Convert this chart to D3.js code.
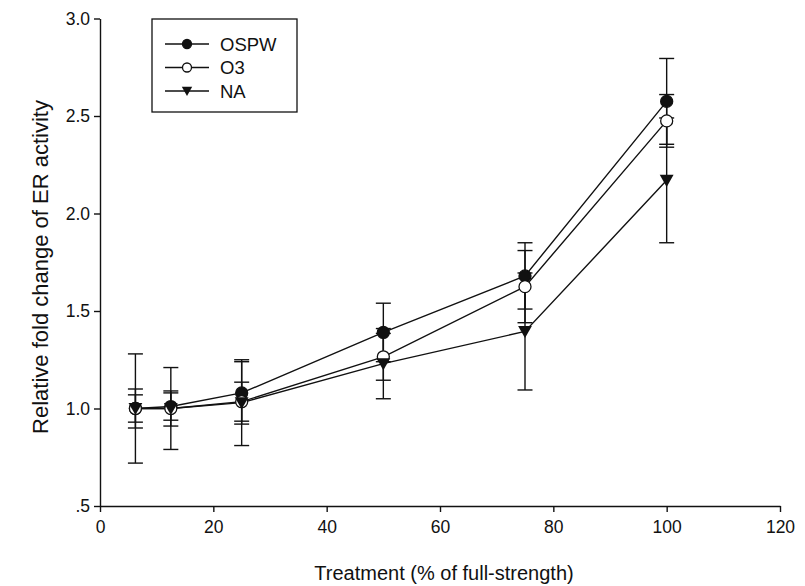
<!DOCTYPE html>
<html>
<head>
<meta charset="utf-8">
<script src="https://cdn.jsdelivr.net/npm/d3@7"></script>
<style>
  body { margin: 0; background: #fff; }
  text { font-family: "Liberation Sans", Arial, sans-serif; fill: #111; }
</style>
</head>
<body>
<div id="container"></div>
<script>
const w = 805;
const h = 586;

// data
let treatments = [6.25, 12.5, 25, 50, 75, 100];
let ospw = [1.00, 1.01, 1.08, 1.39, 1.68, 2.575];
let ospwErr = [0.10, 0.07, 0.16, 0.15, 0.17, 0.22];
let o3 = [1.00, 1.00, 1.035, 1.265, 1.625, 2.475];
let o3Err = [0.07, 0.09, 0.10, 0.12, 0.185, 0.135];
let na = [1.00, 1.00, 1.03, 1.23, 1.395, 2.17];
let naErr = [0.28, 0.21, 0.22, 0.18, 0.30, 0.32];
let seriesNames = ["OSPW", "O3", "NA"];
let xTicks = [0, 20, 40, 60, 80, 100, 120];
let yTicks = [0.5, 1.0, 1.5, 2.0, 2.5, 3.0];

let series = [
  { name: seriesNames[0], mean: ospw, err: ospwErr, marker: "filled" },
  { name: seriesNames[1], mean: o3, err: o3Err, marker: "open" },
  { name: seriesNames[2], mean: na, err: naErr, marker: "triangle" }
];

let xScale = d3.scaleLinear().domain([0, 120]).range([100, 780]);
let yScale = d3.scaleLinear().domain([0.5, 3.0]).range([506, 18.5]);

let viz = d3.select("#container").append("svg").attr("width", w).attr("height", h);

// axes
let xAxis = d3.axisBottom(xScale).tickValues(xTicks).tickSize(6).tickSizeOuter(0);
let xAxisGroup = viz.append("g").attr("class", "xaxis")
  .attr("transform", "translate(0," + yScale(0.5) + ")")
  .call(xAxis);
xAxisGroup.selectAll("text").attr("font-size", 17.5).attr("dy", "1.05em");

let yAxis = d3.axisLeft(yScale).tickValues(yTicks).tickSize(6).tickSizeOuter(0)
  .tickFormat(function(d){ return d < 1 ? ".5" : d.toFixed(1) });
let yAxisGroup = viz.append("g").attr("class", "yaxis")
  .attr("transform", "translate(" + xScale(0) + ",0)")
  .call(yAxis);
yAxisGroup.selectAll("text").attr("font-size", 17.5).attr("x", -10);

viz.selectAll(".domain, .tick line").attr("stroke", "#111").attr("stroke-width", 1.4);

// axis titles
viz.append("text")
  .attr("x", 444).attr("y", 580)
  .attr("text-anchor", "middle").attr("font-size", 20)
  .text("Treatment (% of full-strength)");
viz.append("text")
  .attr("transform", "translate(48,267) rotate(-90)")
  .attr("text-anchor", "middle").attr("font-size", 22)
  .text("Relative fold change of ER activity");

function drawMarker(g, type, size){
  if (type == "triangle") {
    let s = size * 1.15;
    g.append("path")
      .attr("d", "M" + (-s) + "," + (-s * 0.8) + "L" + s + "," + (-s * 0.8) + "L0," + (s * 0.95) + "Z")
      .attr("fill", "#111");
  } else {
    g.append("circle")
      .attr("r", size)
      .attr("fill", type == "filled" ? "#111" : "#fff")
      .attr("stroke", "#111")
      .attr("stroke-width", 1.3);
  }
}

let line = d3.line()
  .x(function(d){ return xScale(d.x) })
  .y(function(d){ return yScale(d.y) });

function points(s){
  return treatments.map(function(t, i){ return { x: t, y: s.mean[i], e: s.err[i] } });
}

// lines
series.forEach(function(s){
  viz.append("path")
    .datum(points(s))
    .attr("d", line)
    .attr("fill", "none")
    .attr("stroke", "#111")
    .attr("stroke-width", 1.4);
});

// error bars
series.forEach(function(s){
  let bars = viz.append("g").selectAll("g").data(points(s)).enter().append("g");
  bars.append("line")
    .attr("x1", function(d){ return xScale(d.x) })
    .attr("x2", function(d){ return xScale(d.x) })
    .attr("y1", function(d){ return yScale(d.y + d.e) })
    .attr("y2", function(d){ return yScale(d.y - d.e) })
    .attr("stroke", "#111").attr("stroke-width", 1.4);
  [1, -1].forEach(function(sign){
    bars.append("line")
      .attr("x1", function(d){ return xScale(d.x) - 7.5 })
      .attr("x2", function(d){ return xScale(d.x) + 7.5 })
      .attr("y1", function(d){ return yScale(d.y + sign * d.e) })
      .attr("y2", function(d){ return yScale(d.y + sign * d.e) })
      .attr("stroke", "#111").attr("stroke-width", 1.4);
  });
});

// markers
series.forEach(function(s){
  points(s).forEach(function(d){
    let g = viz.append("g").attr("transform", "translate(" + xScale(d.x) + "," + yScale(d.y) + ")");
    drawMarker(g, s.marker, 6);
  });
});

// legend
let legend = viz.append("g").attr("class", "legend");
legend.append("rect")
  .attr("x", 152).attr("y", 19).attr("width", 145).attr("height", 93)
  .attr("fill", "#fff").attr("stroke", "#111").attr("stroke-width", 1.3);
series.forEach(function(s, i){
  let yy = 44 + i * 23.5;
  legend.append("line")
    .attr("x1", 165).attr("x2", 209).attr("y1", yy).attr("y2", yy)
    .attr("stroke", "#111").attr("stroke-width", 1.4);
  let g = legend.append("g").attr("transform", "translate(187," + yy + ")");
  drawMarker(g, s.marker, 4.5);
  legend.append("text")
    .attr("x", 220).attr("y", yy).attr("dy", "0.36em")
    .attr("font-size", 18.5)
    .text(s.name);
});
</script>
</body>
</html>
